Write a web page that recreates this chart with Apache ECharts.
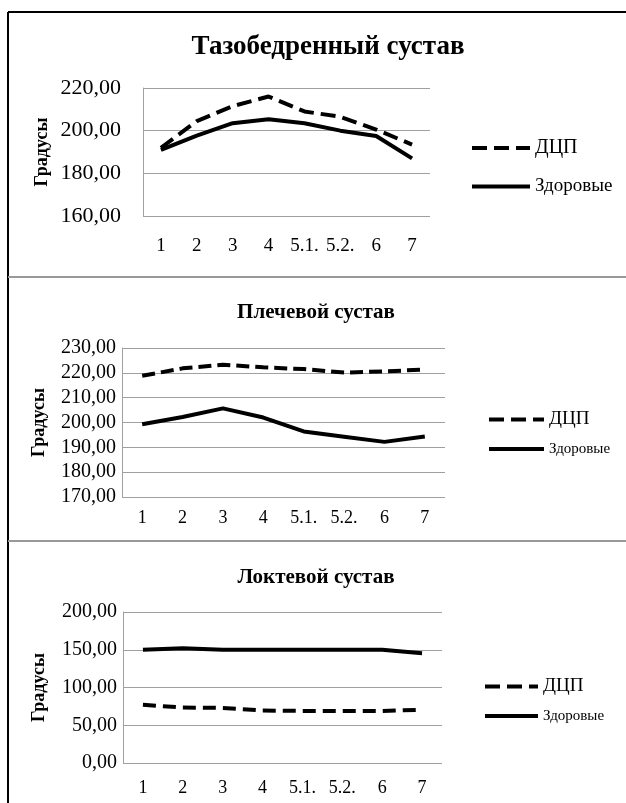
<!DOCTYPE html>
<html><head><meta charset="utf-8">
<script src="https://cdn.jsdelivr.net/npm/echarts@6/dist/echarts.min.js"></script>
<style>html,body{margin:0;padding:0;background:#fff}#c{width:626px;height:803px}</style>
</head><body><div id="c"></div>
<script>
var categories = ['1','2','3','4','5.1.','5.2.','6','7'];
var seriesNames = ['ДЦП','Здоровые'];
var titles = ['Тазобедренный сустав','Плечевой сустав','Локтевой сустав'];
var axisName = 'Градусы';
// Hip joint
var hipCP = [192, 204.5, 211.5, 216, 209, 206.5, 200.5, 193.5];
var hipHealthy = [191, 197.7, 203.5, 205.3, 203.5, 200, 197.5, 187];
// Shoulder joint
var shoulderCP = [218.8, 221.8, 223.3, 222.2, 221.5, 220.1, 220.6, 221.3];
var shoulderHealthy = [199.3, 202.2, 205.7, 202, 196.4, 194.3, 192.2, 194.4];
// Elbow joint
var elbowCP = [77, 73.5, 73, 69.5, 69, 69, 69, 70.5];
var elbowHealthy = [150, 152, 150, 150, 150, 150, 150, 145.5];
// y-axis ranges
var yMin = [160, 170, 0], yMax = [220, 230, 200], yStep = [20, 10, 50];

var SERIF = '"Liberation Serif","Times New Roman",serif';
var fmt = function(v){ return v.toFixed(2).replace('.', ','); };

var panels = [
  {cp: hipCP, h: hipHealthy, grid:{left:143, right:196, top:88, height:128},
   yFont:22, yMargin:22, xFont:19, xMargin:21, nameGap:92, nameFont:18,
   title:{x:323, y:29, size:27}, legend:{left:465, top:133, gap:19, w:58, f1:20, f2:19},
   dash:[15,7]},
  {cp: shoulderCP, h: shoulderHealthy, grid:{left:122, right:181, top:348, height:149},
   yFont:20, yMargin:6, xFont:18, xMargin:12, nameGap:74, nameFont:18,
   title:{x:311, y:297, size:21}, legend:{left:482, top:405, gap:12, w:55, f1:19, f2:15},
   dash:[13,6]},
  {cp: elbowCP, h: elbowHealthy, grid:{left:123, right:184, top:612, height:151},
   yFont:20, yMargin:6, xFont:18, xMargin:16, nameGap:75, nameFont:18,
   title:{x:311, y:562, size:21}, legend:{left:478, top:672, gap:12, w:53, f1:19, f2:15},
   dash:[13,7]}
];

var option = {
  animation:false,
  backgroundColor:'#fff',
  title:[], legend:[], grid:[], xAxis:[], yAxis:[], series:[],
  graphic:[
    {type:'line', shape:{x1:8,y1:12,x2:626,y2:12}, style:{stroke:'#000', lineWidth:2}},
    {type:'line', shape:{x1:8,y1:12,x2:8,y2:803}, style:{stroke:'#000', lineWidth:2}},
    {type:'line', shape:{x1:8,y1:277,x2:626,y2:277}, style:{stroke:'#999', lineWidth:2}},
    {type:'line', shape:{x1:8,y1:541,x2:626,y2:541}, style:{stroke:'#999', lineWidth:2}}
  ]
};

panels.forEach(function(p, i){
  option.title.push({text:titles[i], left:p.title.x, top:p.title.y, textAlign:'center',
    textStyle:{fontFamily:SERIF, fontWeight:'bold', fontSize:p.title.size, color:'#000'}});
  option.grid.push(p.grid);
  option.xAxis.push({type:'category', gridIndex:i, data:categories, boundaryGap:true,
    axisLine:{show:false}, axisTick:{show:false},
    axisLabel:{interval:0, margin:p.xMargin, fontFamily:SERIF, fontSize:p.xFont, color:'#000'}});
  option.yAxis.push({type:'value', gridIndex:i, min:yMin[i], max:yMax[i], interval:yStep[i],
    name:axisName, nameLocation:'middle', nameGap:p.nameGap,
    nameTextStyle:{fontFamily:SERIF, fontWeight:'bold', fontSize:p.nameFont, color:'#000'},
    axisLine:{show:true, lineStyle:{color:'#a0a0a0', width:1}}, axisTick:{show:false},
    splitLine:{show:true, lineStyle:{color:'#a0a0a0', width:1}},
    axisLabel:{formatter:fmt, margin:p.yMargin, fontFamily:SERIF, fontSize:p.yFont, color:'#000'}});
  option.legend.push({orient:'vertical', left:p.legend.left, top:p.legend.top, itemGap:p.legend.gap,
    itemWidth:p.legend.w, itemHeight:20, itemStyle:{opacity:0}, lineStyle:{width:4},
    data:[{name:seriesNames[0], textStyle:{fontSize:p.legend.f1}},
          {name:seriesNames[1], textStyle:{fontSize:p.legend.f2}}],
    textStyle:{fontFamily:SERIF, color:'#000', padding:[0,0,0,0]}});
  option.series.push({name:seriesNames[0], type:'line', xAxisIndex:i, yAxisIndex:i, data:p.cp,
    symbol:'none', lineStyle:{color:'#000', width:4, type:p.dash}, itemStyle:{color:'#000'}});
  option.series.push({name:seriesNames[1], type:'line', xAxisIndex:i, yAxisIndex:i, data:p.h,
    symbol:'none', lineStyle:{color:'#000', width:4, type:'solid'}, itemStyle:{color:'#000'}});
});

var chart = echarts.init(document.getElementById('c'), null, {renderer:'canvas'});
chart.setOption(option);
</script>
</body></html>
